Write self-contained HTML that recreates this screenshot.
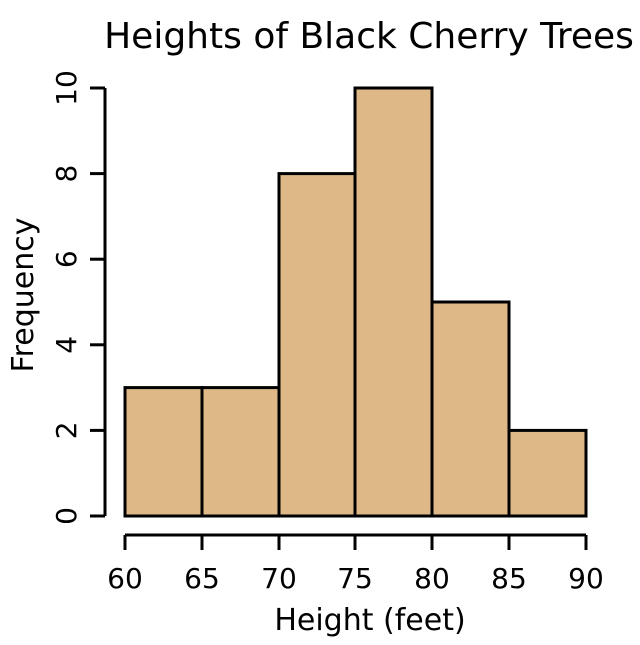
<!DOCTYPE html>
<html><head><style>body{margin:0;background:#fff}</style></head><body>
<svg width="640" height="640" xmlns="http://www.w3.org/2000/svg" font-family="DejaVu Sans, sans-serif">
<rect width="640" height="640" fill="#fff"/>
<text x="369" y="48" font-size="36" text-anchor="middle">Heights of Black Cherry Trees</text>
<g fill="#DEB887" stroke="#000" stroke-width="3">
<rect x="125" y="387.6" width="77" height="128.4"/>
<rect x="202" y="387.6" width="77" height="128.4"/>
<rect x="279" y="173.6" width="76" height="342.4"/>
<rect x="355" y="88" width="77" height="428"/>
<rect x="432" y="302" width="77" height="214"/>
<rect x="509" y="430.4" width="77" height="85.6"/>
</g>
<g stroke="#000" stroke-width="3">
<line x1="105" y1="88" x2="105" y2="516"/>
<line x1="90" y1="516" x2="105" y2="516"/>
<line x1="90" y1="430.4" x2="105" y2="430.4"/>
<line x1="90" y1="344.8" x2="105" y2="344.8"/>
<line x1="90" y1="259.2" x2="105" y2="259.2"/>
<line x1="90" y1="173.6" x2="105" y2="173.6"/>
<line x1="90" y1="88" x2="105" y2="88"/>
<line x1="125" y1="535" x2="586" y2="535"/>
<line x1="125" y1="535" x2="125" y2="550"/>
<line x1="202" y1="535" x2="202" y2="550"/>
<line x1="279" y1="535" x2="279" y2="550"/>
<line x1="355" y1="535" x2="355" y2="550"/>
<line x1="432" y1="535" x2="432" y2="550"/>
<line x1="509" y1="535" x2="509" y2="550"/>
<line x1="586" y1="535" x2="586" y2="550"/>
</g>
<g font-size="28" text-anchor="middle">
<text x="125" y="588">60</text><text x="202" y="588">65</text><text x="279" y="588">70</text>
<text x="355" y="588">75</text><text x="432" y="588">80</text><text x="509" y="588">85</text>
<text x="586" y="588">90</text>
<text x="370" y="630" font-size="30">Height (feet)</text>
</g>
<g font-size="28" text-anchor="middle">
<text transform="translate(76,516) rotate(-90)">0</text>
<text transform="translate(76,430.4) rotate(-90)">2</text>
<text transform="translate(76,344.8) rotate(-90)">4</text>
<text transform="translate(76,259.2) rotate(-90)">6</text>
<text transform="translate(76,173.6) rotate(-90)">8</text>
<text transform="translate(76,88) rotate(-90)">10</text>
<text transform="translate(33,295) rotate(-90)" font-size="30">Frequency</text>
</g>
</svg>
</body></html>
